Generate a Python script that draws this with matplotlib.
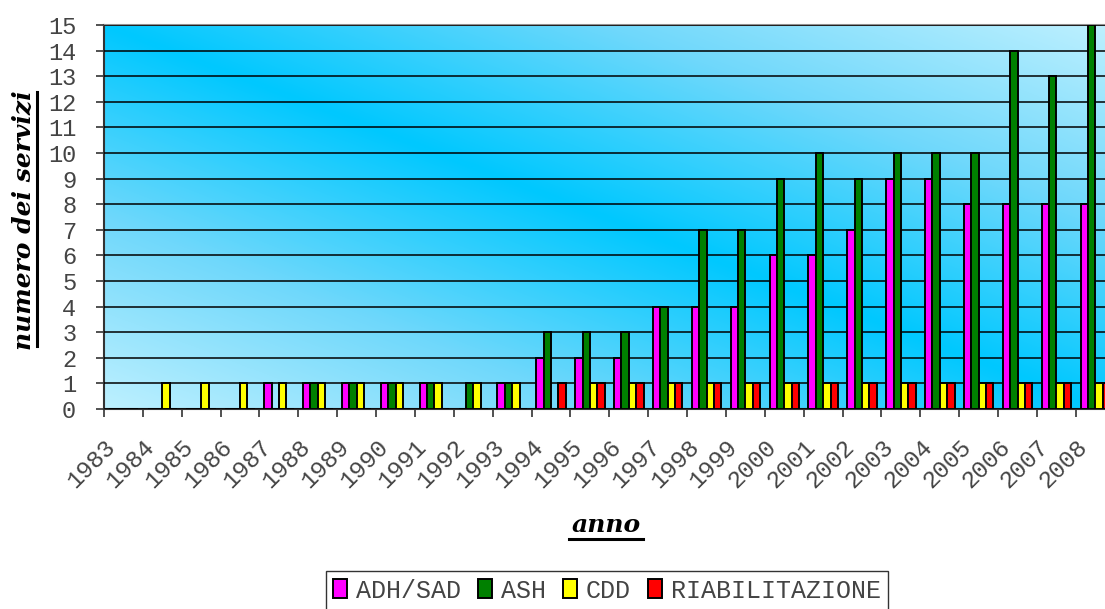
import numpy as np
import matplotlib
matplotlib.use("Agg")
import matplotlib.pyplot as plt
from matplotlib.lines import Line2D
from matplotlib.colors import LinearSegmentedColormap

# dati: numero dei servizi per anno
anni = [str(a) for a in range(1983, 2009)]
adh_sad = [0, 0, 0, 0, 1, 1, 1, 1, 1, 0, 1, 2, 2, 2, 4, 4, 4, 6, 6, 7, 9, 9, 8, 8, 8, 8]
ash = [0, 0, 0, 0, 0, 1, 1, 1, 1, 1, 1, 3, 3, 3, 4, 7, 7, 9, 10, 9, 10, 10, 10, 14, 13, 15]
cdd = [0, 1, 1, 1, 1, 1, 1, 1, 1, 1, 1, 0, 1, 1, 1, 1, 1, 1, 1, 1, 1, 1, 1, 1, 1, 1]
riabilitazione = [0, 0, 0, 0, 0, 0, 0, 0, 0, 0, 0, 1, 1, 1, 1, 1, 1, 1, 1, 1, 1, 1, 1, 1, 1, 1]

serie = [
    ("ADH/SAD", adh_sad, "#ff00ff"),
    ("ASH", ash, "#008000"),
    ("CDD", cdd, "#ffff00"),
    ("RIABILITAZIONE", riabilitazione, "#ff0000"),
]

MONO = "Liberation Mono"
SERIF = "DejaVu Serif"

fig = plt.figure(figsize=(11.05, 6.09), dpi=100)
W, H = 1105, 609
ax = fig.add_axes([104 / W, (H - 409) / H, 1 - 104 / W, 384 / H])

# sfondo sfumato diagonale
n = 400
u, v = np.meshgrid(np.linspace(0, 1, n), np.linspace(0, 1, n))
t = np.abs(u + v - 1)
cmap = LinearSegmentedColormap.from_list("bg", ["#00c8ff", "#6fd8fb", "#bdf0ff"])
ax.imshow(t, cmap=cmap, extent=[0, 1, 0, 1], origin="lower",
          transform=ax.transAxes, aspect="auto", zorder=0, vmin=0, vmax=1)

x = np.arange(len(anni))
w = 0.19
for k, (nome, valori, colore) in enumerate(serie):
    ax.bar(x + 0.5 + (k - 1.5) * w, valori, width=w, color=colore,
           edgecolor="black", linewidth=1.4, label=nome, zorder=3)

ax.set_xlim(0, 25.75)
ax.set_ylim(0, 15)
ax.set_yticks(range(0, 16))
ax.yaxis.grid(True, color="black", linewidth=1.1, zorder=1)
ax.set_axisbelow(False)
ax.set_xticks(x)
ax.set_xticklabels(anni, rotation=45, ha="right", rotation_mode="anchor",
                   fontfamily=MONO, fontsize=17.5, color="#444444")
for lab in ax.get_yticklabels():
    lab.set_fontfamily(MONO)
    lab.set_fontsize(17)
    lab.set_color("#444444")
ax.tick_params(axis="both", direction="out", length=6, width=1.2, color="#333333")
ax.tick_params(axis="x", pad=13)
ax.tick_params(axis="y", pad=14)

ax.spines["right"].set_visible(False)
ax.spines["top"].set_color("#909090")
ax.spines["top"].set_linewidth(1.5)
for s in ["left", "bottom"]:
    ax.spines[s].set_color("#333333")
    ax.spines[s].set_linewidth(1.5)

# titoli degli assi, sottolineati
fig.text(606 / W, 1 - 525 / H, "anno", ha="center", va="center",
         fontfamily=SERIF, fontweight="bold", fontstyle="italic", fontsize=18)
fig.add_artist(Line2D([569 / W, 643 / W], [1 - 539 / H, 1 - 539 / H],
                      color="black", linewidth=2.2))
fig.text(24 / W, 1 - 220 / H, "numero dei servizi", ha="center", va="center",
         rotation=90, fontfamily=SERIF, fontweight="bold", fontstyle="italic",
         fontsize=18)
fig.add_artist(Line2D([37 / W, 37 / W], [1 - 92 / H, 1 - 346 / H],
                      color="black", linewidth=2.2))

leg = fig.legend(loc="upper center", bbox_to_anchor=(607 / W, 1 - 571 / H),
                 ncol=4, frameon=True, fancybox=False, handlelength=0.55,
                 handleheight=0.8, handletextpad=0.35, columnspacing=0.7,
                 borderpad=0.3, borderaxespad=0, prop={"family": MONO, "size": 18})
leg.get_frame().set_edgecolor("black")
leg.get_frame().set_linewidth(1.0)
for txt in leg.get_texts():
    txt.set_color("#444444")

fig.savefig("out.png", dpi=100)
